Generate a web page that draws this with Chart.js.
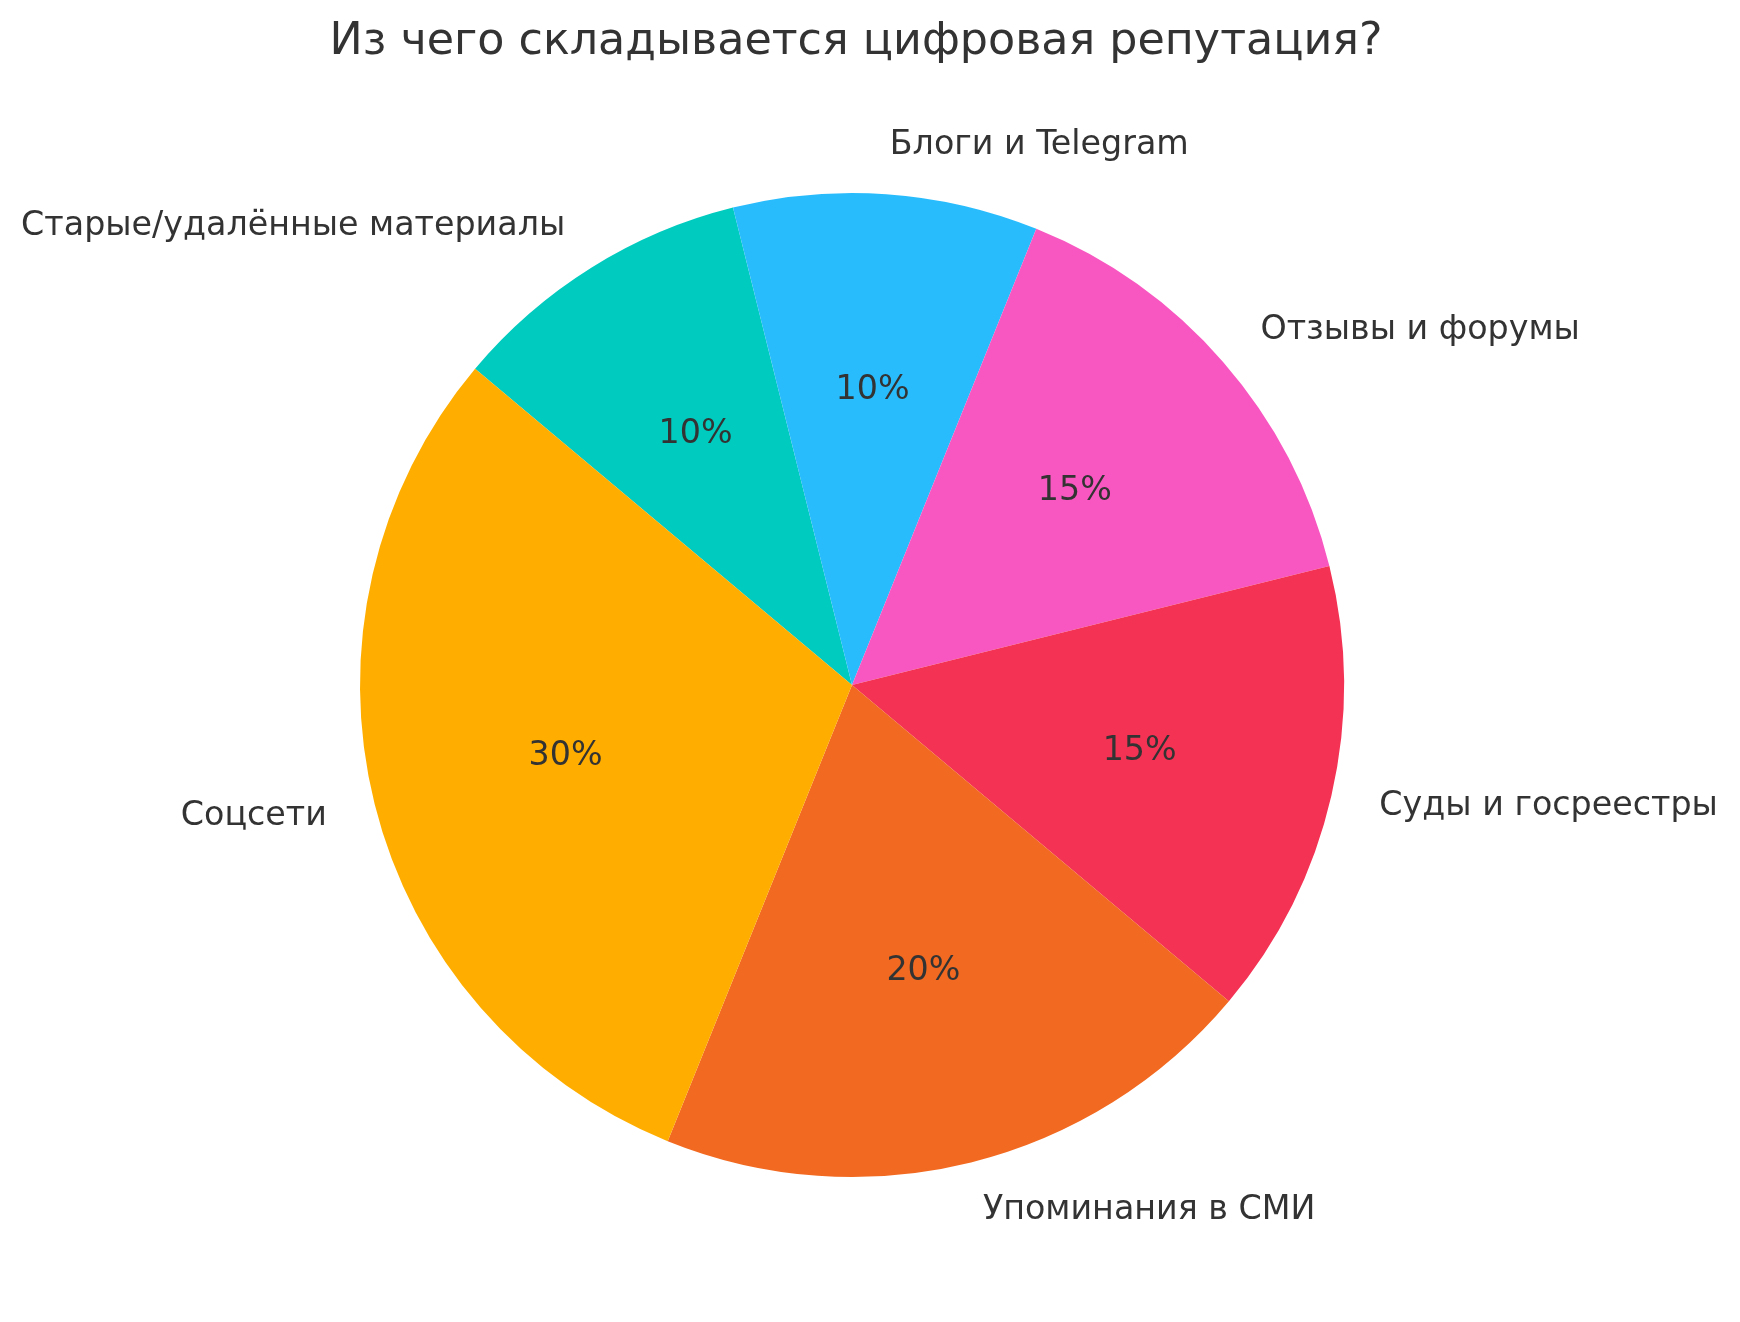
<!DOCTYPE html>
<html lang="ru">
<head>
<meta charset="utf-8">
<title>Из чего складывается цифровая репутация?</title>
<script src="https://cdn.jsdelivr.net/npm/chart.js@4.4.1/dist/chart.umd.min.js"></script>
<style>
  html, body { margin: 0; padding: 0; background: #fff; }
  #wrap { width: 1740px; height: 1322px; }
</style>
</head>
<body>
<div id="wrap"><canvas id="pie" width="1740" height="1322"></canvas></div>
<script>
// data, in the order matplotlib draws it (counter-clockwise from 140°)
const categories = ["Соцсети", "Упоминания в СМИ", "Суды и госреестры", "Отзывы и форумы", "Блоги и Telegram", "Старые/удалённые материалы"];
const shares = [30, 20, 15, 15, 10, 10];
const sliceColors = ["#FFAE00", "#F26A21", "#F43254", "#F857C1", "#29BCFD", "#00CBBF"];
const chartTitle = "Из чего складывается цифровая репутация?";

// Chart.js goes clockwise, so reverse to keep the same picture
const labelsCw = categories.slice().reverse();
const valuesCw = shares.slice().reverse();
const colorsCw = sliceColors.slice().reverse();

const FONT = "'DejaVu Sans', sans-serif";
const TEXT = "#333333";

// labels at 1.1 r (outside) and percentages at 0.6 r, like matplotlib
const pieTextPlugin = {
    id: 'pieText',
    afterDraw(chart) {
        const ctx = chart.ctx;
        const meta = chart.getDatasetMeta(0);
        ctx.save();
        ctx.fillStyle = TEXT;
        ctx.textBaseline = "middle";

        ctx.font = "44.4px " + FONT;
        ctx.textAlign = "center";
        ctx.fillText(chartTitle, 856, 42);

        meta.data.forEach((arc, i) => {
            const {x, y, startAngle, endAngle, outerRadius} = arc.getProps(['x', 'y', 'startAngle', 'endAngle', 'outerRadius'], true);
            const mid = (startAngle + endAngle) / 2;
            const cx = Math.cos(mid), cy = Math.sin(mid);

            ctx.font = "33.3px " + FONT;
            ctx.textAlign = cx < 0 ? "right" : "left";
            ctx.fillText(labelsCw[i], x + cx * outerRadius * 1.1, y + cy * outerRadius * 1.1);

            ctx.textAlign = "center";
            ctx.fillText(valuesCw[i] + "%", x + cx * outerRadius * 0.6, y + cy * outerRadius * 0.6);
        });
        ctx.restore();
    }
};

new Chart(document.getElementById('pie'), {
    type: 'pie',
    data: {
        labels: labelsCw,
        datasets: [{
            data: valuesCw,
            backgroundColor: colorsCw,
            borderWidth: 0
        }]
    },
    options: {
        responsive: false,
        animation: false,
        rotation: -50,
        layout: { padding: { top: 193, left: 360, right: 396, bottom: 145 } },
        plugins: {
            legend: { display: false },
            tooltip: { enabled: false },
            title: { display: false }
        }
    },
    plugins: [pieTextPlugin]
});
</script>
</body>
</html>
